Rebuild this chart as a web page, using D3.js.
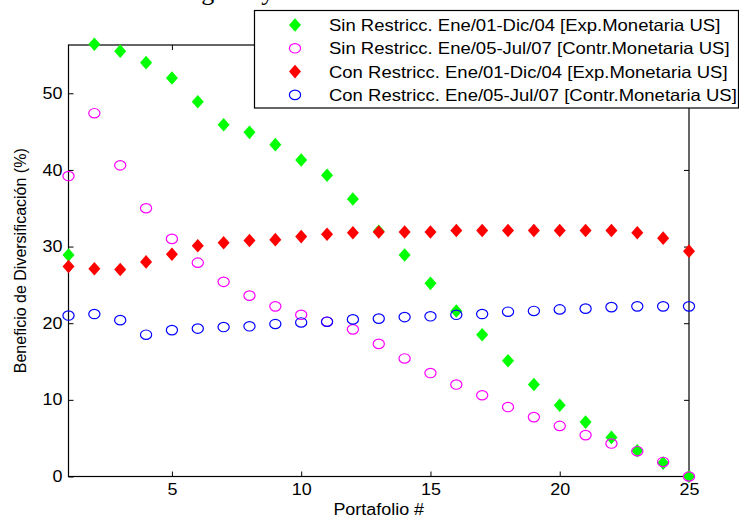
<!DOCTYPE html>
<html>
<head>
<meta charset="utf-8">
<script src="https://cdn.jsdelivr.net/npm/d3@7"></script>
<style>
  html, body { margin: 0; padding: 0; background: #fff; }
  svg { display: block; }
  text { font-family: "Liberation Sans", Arial, Helvetica, sans-serif; fill: #000; }
</style>
</head>
<body>
<svg id="chart" width="739" height="520"></svg>
<script>
// ---------- data ----------
const portfolios = d3.range(1, 26);
const sinExp = [28.9, 56.4, 55.5, 54.0, 52.0, 48.9, 45.9, 44.9, 43.3, 41.3, 39.3, 36.2, 32.0, 28.9, 25.2, 21.6, 18.5, 15.1, 12.0, 9.3, 7.1, 5.1, 3.35, 1.75, 0.0];
const sinContr = [39.2, 47.4, 40.6, 35.0, 31.0, 27.9, 25.4, 23.6, 22.2, 21.1, 20.2, 19.2, 17.3, 15.4, 13.5, 12.0, 10.6, 9.06, 7.75, 6.6, 5.4, 4.3, 3.3, 1.9, 0.0];
const conExp = [27.4, 27.1, 27.0, 28.0, 29.0, 30.1, 30.5, 30.8, 30.9, 31.3, 31.6, 31.8, 31.9, 31.9, 31.9, 32.1, 32.1, 32.1, 32.1, 32.1, 32.1, 32.1, 31.8, 31.1, 29.4];
const conContr = [21.0, 21.2, 20.4, 18.5, 19.1, 19.3, 19.5, 19.6, 19.9, 20.1, 20.2, 20.5, 20.6, 20.8, 20.9, 21.1, 21.2, 21.5, 21.6, 21.8, 21.9, 22.1, 22.2, 22.2, 22.2];
const seriesNames = [
  "Sin Restricc. Ene/01-Dic/04 [Exp.Monetaria US]",
  "Sin Restricc. Ene/05-Jul/07 [Contr.Monetaria US]",
  "Con Restricc. Ene/01-Dic/04 [Exp.Monetaria US]",
  "Con Restricc. Ene/05-Jul/07 [Contr.Monetaria US]"
];
const xTicks = [5, 10, 15, 20, 25];
const yTicks = [0, 10, 20, 30, 40, 50];
const xLabel = "Portafolio #";
const yLabel = "Beneficio de Diversificación (%)";
const titleText = "Carteras Estratégicas y Beneficio de Diversificación";

// ---------- layout ----------
const svg = d3.select("#chart");
const L = 68.5, R = 689, T = 45, B = 476.5;
const x = d3.scaleLinear().domain([1, 25]).range([L, R]);
const y = d3.scaleLinear().domain([0, 56.3]).range([B, T]);
const SX = 1.12; // horizontal stretch of the original picture

function stretch(sel, k) {
  sel.each(function () {
    const len = this.getComputedTextLength();
    d3.select(this).attr("textLength", len * (k || SX)).attr("lengthAdjust", "spacingAndGlyphs");
  });
}

// title (mostly clipped at the top edge, only descenders show)
svg.append("text")
  .attr("x", 36).attr("y", -0.5)
  .style("font-family", "'Liberation Serif', 'Times New Roman', serif")
  .style("font-size", "26px")
  .text(titleText);

// ---------- axes ----------
const gx = svg.append("g").attr("transform", `translate(0,${B})`)
  .call(d3.axisBottom(x).tickValues(xTicks).tickSizeInner(-5).tickSizeOuter(0).tickPadding(7));
const gy = svg.append("g").attr("transform", `translate(${L},0)`)
  .call(d3.axisLeft(y).tickValues(yTicks).tickSizeInner(-5).tickSizeOuter(0).tickPadding(6));
svg.append("g").attr("transform", `translate(0,${T})`)
  .call(d3.axisTop(x).tickValues(xTicks).tickSizeInner(-5).tickSizeOuter(0).tickFormat(""));
svg.append("g").attr("transform", `translate(${R},0)`)
  .call(d3.axisRight(y).tickValues(yTicks).tickSizeInner(-5).tickSizeOuter(0).tickFormat(""));

svg.selectAll(".domain").remove();
svg.selectAll(".tick line").attr("stroke", "#000").attr("stroke-width", 1);
svg.selectAll(".tick text").style("font-size", "16px").attr("fill", "#000");
gx.selectAll(".tick text").call(stretch);
gy.selectAll(".tick text").call(stretch);

svg.append("rect")
  .attr("x", L).attr("y", T).attr("width", R - L).attr("height", B - T)
  .attr("fill", "none").attr("stroke", "#000").attr("stroke-width", 1.2);

// axis labels
svg.append("text")
  .attr("x", (L + R) / 2).attr("y", 515)
  .attr("text-anchor", "middle")
  .style("font-size", "16px")
  .text(xLabel).call(stretch);
svg.append("text")
  .attr("transform", `translate(26,${(T + B) / 2}) rotate(-90)`)
  .attr("text-anchor", "middle")
  .style("font-size", "16px")
  .text(yLabel);

// ---------- marks ----------
const diamond = "M0,-6.8L6,0L0,6.8L-6,0Z";
function drawDiamonds(vals, color) {
  svg.append("g").selectAll("path").data(vals).join("path")
    .attr("d", diamond)
    .attr("transform", (v, i) => `translate(${x(portfolios[i])},${y(v)})`)
    .attr("fill", color).attr("stroke", "none");
}
function drawCircles(vals, color) {
  svg.append("g").selectAll("ellipse").data(vals).join("ellipse")
    .attr("cx", (v, i) => x(portfolios[i]))
    .attr("cy", v => y(v))
    .attr("rx", 5.6).attr("ry", 4.7)
    .attr("fill", "none").attr("stroke", color).attr("stroke-width", 1.2);
}
const colors = ["#00ff00", "#ff00ff", "#ff0000", "#0000ff"];
drawDiamonds(sinExp, colors[0]);
drawCircles(sinContr, colors[1]);
drawDiamonds(conExp, colors[2]);
drawCircles(conContr, colors[3]);

// ---------- legend ----------
const lg = svg.append("g");
lg.append("rect")
  .attr("x", 254.5).attr("y", 10.5).attr("width", 484).attr("height", 97.5)
  .attr("fill", "#fff").attr("stroke", "#000").attr("stroke-width", 1.2);
const kinds = ["d", "c", "d", "c"];
seriesNames.forEach((name, i) => {
  const cy = 25 + i * 23.3;
  if (kinds[i] === "d") {
    lg.append("path").attr("d", diamond).attr("transform", `translate(295,${cy})`).attr("fill", colors[i]);
  } else {
    lg.append("ellipse").attr("cx", 295).attr("cy", cy).attr("rx", 5.6).attr("ry", 4.7)
      .attr("fill", "none").attr("stroke", colors[i]).attr("stroke-width", 1.2);
  }
  lg.append("text").attr("x", 329).attr("y", cy + 6)
    .style("font-size", "16.5px").text(name).call(stretch);
});
</script>
</body>
</html>
